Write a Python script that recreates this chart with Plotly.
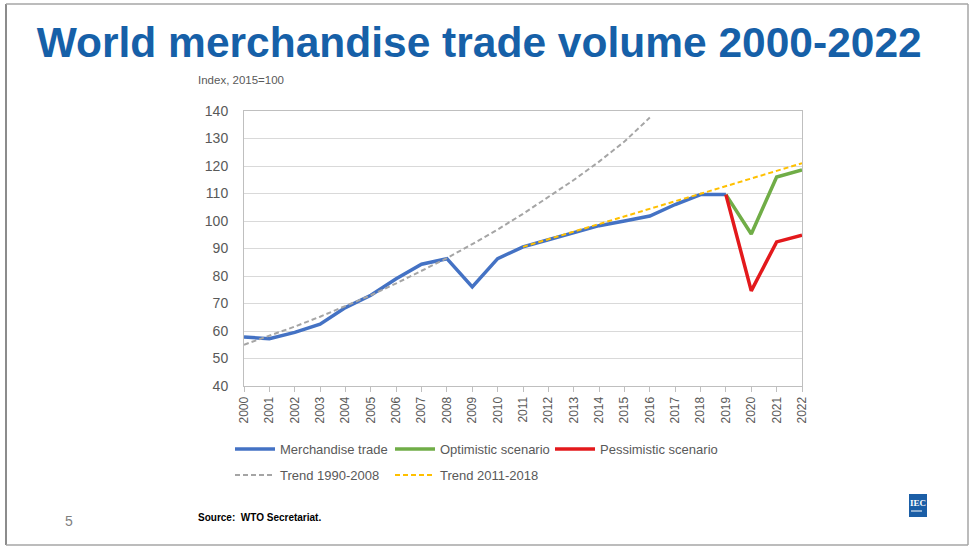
import plotly.graph_objects as go

W, H = 970, 547
L, R, T, B = 244, 802, 111, 386  # plot area in pixels

years = list(range(2000, 2023))
merch_years = list(range(2000, 2020))
merch_vals = [57.8, 57.2, 59.5, 62.5, 68.5, 73.0, 79.0, 84.3, 86.3, 76.0, 86.3, 90.6,
              93.2, 95.8, 98.3, 100.0, 101.8, 106.0, 109.6, 109.6]
scen_years = [2019, 2020, 2021, 2022]
opt_vals = [109.6, 95.3, 116.0, 118.6]
pes_vals = [109.6, 74.6, 92.4, 94.8]
trend1_years = list(range(2000, 2017))
trend1_vals = [55.0, 58.2, 61.6, 65.2, 69.0, 73.0, 77.3, 81.8, 86.5, 91.6, 96.9,
               102.6, 108.6, 114.9, 121.6, 128.9, 137.6]
trend2_years = list(range(2011, 2023))
trend2_vals = [90.6, 93.4, 96.1, 98.9, 101.7, 104.4, 107.2, 109.9, 112.7, 115.5, 118.2, 121.0]
y_ticks = [40, 50, 60, 70, 80, 90, 100, 110, 120, 130, 140]


def px(x):
    return (x - L) / (R - L)


def py(y):
    return (B - y) / (B - T)


fig = go.Figure()
fig.add_trace(go.Scatter(x=merch_years, y=merch_vals, mode="lines", name="Merchandise trade",
                         line=dict(color="#4472C4", width=3.5), legend="legend"))
fig.add_trace(go.Scatter(x=scen_years, y=opt_vals, mode="lines", name="Optimistic scenario",
                         line=dict(color="#70AD47", width=3.5), legend="legend"))
fig.add_trace(go.Scatter(x=scen_years, y=pes_vals, mode="lines", name="Pessimistic scenario",
                         line=dict(color="#E3191C", width=3.5), legend="legend", legendwidth=135))
fig.add_trace(go.Scatter(x=trend1_years, y=trend1_vals, mode="lines", name="Trend 1990-2008",
                         line=dict(color="#A5A5A5", width=2, dash="5px,3px"), legend="legend2"))
fig.add_trace(go.Scatter(x=trend2_years, y=trend2_vals, mode="lines", name="Trend 2011-2018",
                         line=dict(color="#FFC000", width=2, dash="5px,3px"), legend="legend2",
                         legendwidth=120))

fig.update_layout(
    width=W, height=H,
    margin=dict(l=L, r=W - R, t=T, b=H - B),
    paper_bgcolor="white", plot_bgcolor="white",
    font=dict(family="Liberation Sans, Arial, sans-serif", color="#595959"),
    title=dict(text="<b>World merchandise trade volume 2000-2022</b>",
               font=dict(size=42.5, color="#1660A8", family="Liberation Sans, Arial, sans-serif"),
               x=0.494, xanchor="center", y=1 - 42 / H, yanchor="middle", xref="container"),
    xaxis=dict(range=[2000, 2022], tickmode="array", tickvals=years,
               ticktext=[str(y) for y in years], tickangle=-90,
               tickfont=dict(size=12, color="#595959"),
               showgrid=False, zeroline=False,
               showline=True, linecolor="#BFBFBF", linewidth=1, mirror=True,
               ticks="outside", ticklen=5, tickcolor="#BFBFBF"),
    yaxis=dict(range=[40, 140], tickmode="array", tickvals=y_ticks,
               tickfont=dict(size=14, color="#595959"),
               showgrid=True, gridcolor="#D9D9D9", gridwidth=1, zeroline=False,
               showline=True, linecolor="#BFBFBF", linewidth=1, mirror=True,
               ticks="", ticklabelstandoff=12),
    legend=dict(orientation="h", x=px(230), xanchor="left", y=py(449), yanchor="middle",
                entrywidthmode="pixels", entrywidth=105, itemwidth=40,
                font=dict(size=13, color="#595959"), bgcolor="rgba(0,0,0,0)",
                traceorder="normal"),
    legend2=dict(orientation="h", x=px(230), xanchor="left", y=py(475), yanchor="middle",
                 entrywidthmode="pixels", entrywidth=105, itemwidth=40,
                 font=dict(size=13, color="#595959"), bgcolor="rgba(0,0,0,0)",
                 traceorder="normal"),
    showlegend=True,
)

annotations = [
    dict(text="Index, 2015=100", x=px(196), y=py(80), xanchor="left", yanchor="middle",
         font=dict(size=11.5, color="#595959")),
    dict(text="5", x=px(63), y=py(521), xanchor="left", yanchor="middle",
         font=dict(size=14, color="#7F7F7F")),
    dict(text="<b>Source:  WTO Secretariat.</b>", x=px(196), y=py(517), xanchor="left", yanchor="middle",
         font=dict(size=10, color="#000000")),
    dict(text="<b>IEC</b>", x=px(918), y=py(503), xanchor="center", yanchor="middle",
         font=dict(size=9, color="white", family="Liberation Serif, serif")),
]
for a in annotations:
    a.update(xref="paper", yref="paper", showarrow=False)
fig.update_layout(annotations=annotations)

shapes = [
    # slide frame
    dict(type="line", x0=px(6), x1=px(6), y0=py(4), y1=py(545), line=dict(color="#8C8C8C", width=2)),
    dict(type="line", x0=px(6), x1=px(968), y0=py(4), y1=py(4), line=dict(color="#A6A6A6", width=1.5)),
    dict(type="line", x0=px(968), x1=px(968), y0=py(4), y1=py(545), line=dict(color="#A6A6A6", width=1.5)),
    dict(type="line", x0=px(6), x1=px(968), y0=py(545), y1=py(545), line=dict(color="#A6A6A6", width=1.5)),
    # IEC logo
    dict(type="rect", x0=px(909), x1=px(927), y0=py(494), y1=py(517), fillcolor="#1B5EA6",
         line=dict(width=0)),
    dict(type="line", x0=px(911), x1=px(922), y0=py(511), y1=py(511), line=dict(color="white", width=1)),
]
for s in shapes:
    s.update(xref="paper", yref="paper", layer="above")
fig.update_layout(shapes=shapes)

fig.write_html("out.html")
